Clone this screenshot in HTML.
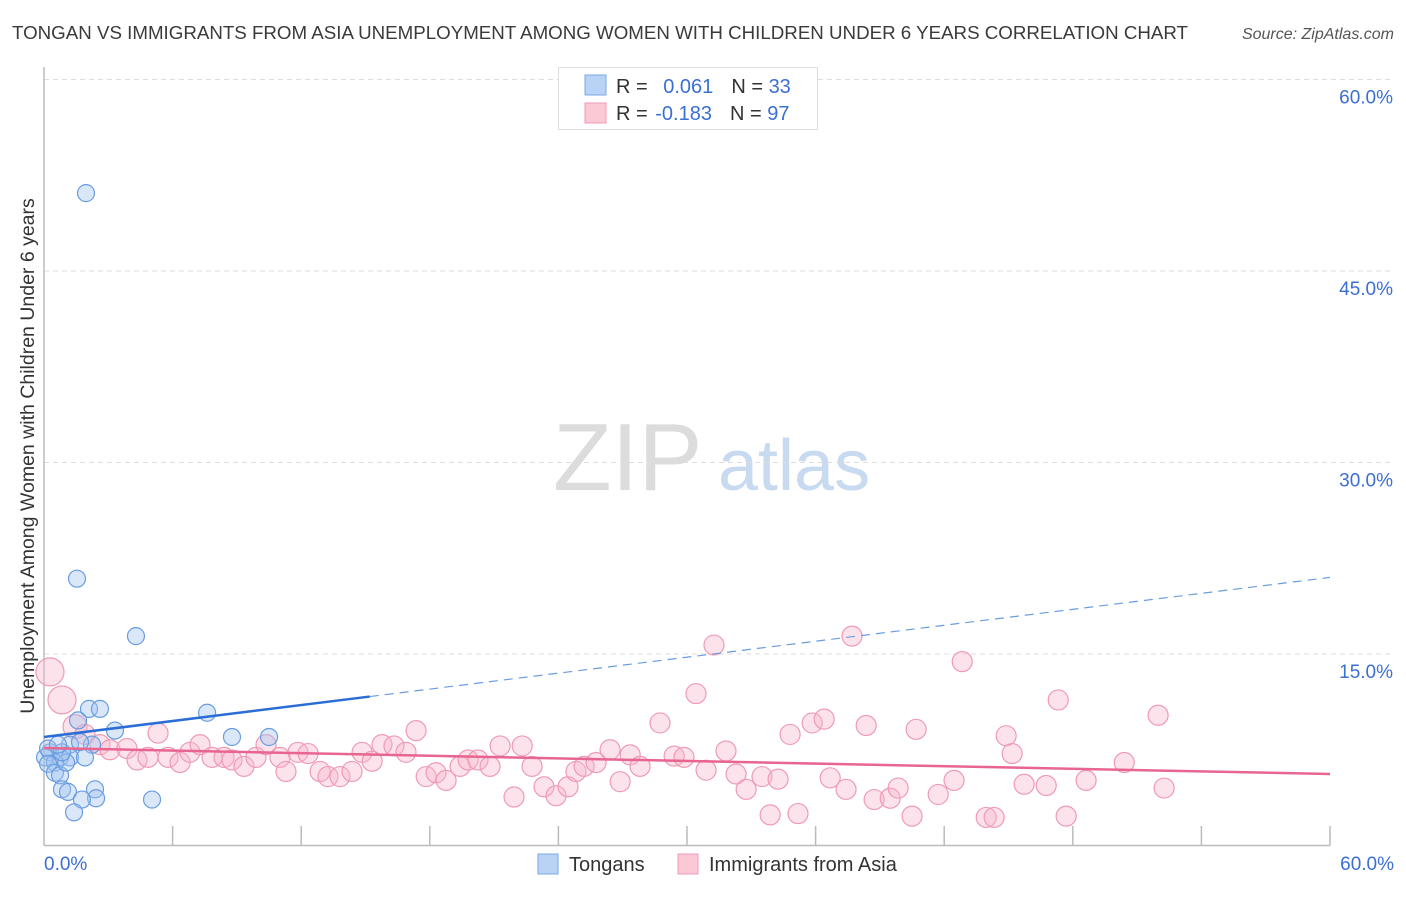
<!DOCTYPE html>
<html><head><meta charset="utf-8"><style>
body{margin:0;background:#fff;font-family:"Liberation Sans",sans-serif;}
svg text{font-family:"Liberation Sans",sans-serif;}
</style></head><body>
<svg id="chart" width="1406" height="892">
<text x="12" y="39" font-size="18.5" fill="#3a3a3a" textLength="1176" lengthAdjust="spacingAndGlyphs">TONGAN VS IMMIGRANTS FROM ASIA UNEMPLOYMENT AMONG WOMEN WITH CHILDREN UNDER 6 YEARS CORRELATION CHART</text>
<text x="1394" y="39" font-size="16" fill="#555" font-style="italic" text-anchor="end">Source: ZipAtlas.com</text>
<g>
<text x="553" y="490" font-size="96" fill="#dcdcdc" font-family="Liberation Serif">ZIP</text>
<text x="718" y="490" font-size="72" fill="#c8daf0">atlas</text>
</g>
<g id="grid"></g>
<g id="axes"></g>
<g id="marks"></g>
<g>
<rect x="558.5" y="67.5" width="259" height="62" fill="#fff" stroke="#ddd"/>
<rect x="585" y="75" width="21" height="20" fill="#b8d3f5" stroke="#7aa8e6"/>
<rect x="585" y="103" width="21" height="20" fill="#fbc8d6" stroke="#f09ab3"/>
<text x="616" y="93" font-size="20" fill="#333">R = <tspan fill="#3b6fd4" dx="10">0.061</tspan><tspan dx="18" fill="#333">N = </tspan><tspan fill="#3b6fd4">33</tspan></text>
<text x="616" y="120" font-size="20" fill="#333">R = <tspan fill="#3b6fd4" dx="2">-0.183</tspan><tspan dx="18" fill="#333">N = </tspan><tspan fill="#3b6fd4">97</tspan></text>
</g>
<g>
<rect x="538" y="854" width="20" height="20" fill="#b8d3f5" stroke="#7aa8e6"/>
<text x="569" y="871" font-size="20" fill="#333">Tongans</text>
<rect x="678" y="854" width="20" height="20" fill="#fbc8d6" stroke="#f09ab3"/>
<text x="709" y="871" font-size="20" fill="#333">Immigrants from Asia</text>
</g>
<text transform="translate(34,456) rotate(-90)" font-size="19.5" fill="#333" text-anchor="middle">Unemployment Among Women with Children Under 6 years</text>
</svg>
<script>
const yTicks=[15,30,45,60];
const xTickLabels=["0.0%","60.0%"];
const blueX=[1.96,1.54,4.29,7.61,8.77,10.50,2.10,2.61,3.31,1.59,1.21,2.24,1.68,0.28,0.75,1.21,1.91,0.05,0.51,0.19,0.19,0.51,0.75,0.84,1.12,2.38,2.43,1.77,1.40,5.04,1.03,0.84,0.65];
const blueY=[51.1,20.9,16.4,10.4,8.5,8.5,10.7,10.7,9.0,9.8,7.9,7.9,8.1,7.3,6.9,6.9,6.9,6.9,6.5,7.6,6.4,5.7,5.5,4.4,4.2,4.4,3.7,3.6,2.6,3.6,6.5,7.3,7.9];
const pinkX=[0.28,0.84,1.45,1.91,2.61,3.08,3.87,4.34,4.85,5.32,5.79,6.35,6.81,7.28,7.84,8.40,8.77,9.33,9.89,10.36,11.01,11.29,11.85,12.32,12.88,13.25,13.81,14.37,14.84,15.31,15.77,16.33,16.89,17.36,17.83,18.29,18.76,19.41,19.79,20.25,20.81,21.28,21.93,22.31,22.77,23.33,23.89,24.45,24.82,25.20,25.76,26.41,26.88,27.35,27.81,28.74,29.40,29.86,30.42,30.89,31.26,31.82,32.29,32.76,33.50,33.88,34.25,34.81,35.18,35.84,36.40,36.68,37.42,37.70,38.36,38.73,39.48,39.85,40.50,40.69,41.72,42.46,42.84,43.96,44.33,44.89,45.17,45.73,46.76,47.32,47.69,48.62,50.40,51.98,52.26];
const pinkY=[13.6,11.4,9.3,8.7,7.9,7.5,7.6,6.7,6.9,8.8,6.9,6.5,7.3,7.9,6.9,6.9,6.7,6.2,6.9,7.9,6.9,5.8,7.3,7.2,5.8,5.4,5.4,5.8,7.3,6.6,7.9,7.8,7.3,9.0,5.4,5.7,5.1,6.2,6.7,6.7,6.2,7.8,3.8,7.8,6.2,4.6,3.9,4.6,5.8,6.2,6.5,7.5,5.0,7.1,6.2,9.6,7.0,6.9,11.9,5.9,15.7,7.4,5.6,4.4,5.4,2.4,5.2,8.7,2.5,9.6,9.9,5.3,4.4,16.4,9.4,3.6,3.7,4.5,2.3,9.1,4.0,5.1,14.4,2.2,2.2,8.6,7.2,4.8,4.7,11.4,2.3,5.1,6.5,10.2,4.5];
const blueTrend=[8.5,21.0]; const blueSolidEnd=15.2;
const pinkTrend=[7.64,5.6];

const NS="http://www.w3.org/2000/svg";
const X0=44,X1=1330,Y0=845.5,Y1=79.5;
const sx=v=>X0+v/60*(X1-X0);
const sy=v=>Y0-v/60*(Y0-Y1);
function mk(tag,attrs,parent){const e=document.createElementNS(NS,tag);for(const k in attrs)e.setAttribute(k,attrs[k]);parent.appendChild(e);return e;}
const grid=document.getElementById('grid'),axes=document.getElementById('axes'),marks=document.getElementById('marks');
yTicks.forEach(t=>{
  const l=mk('line',{x1:X0,x2:1393,y1:sy(t),y2:sy(t),stroke:'#ddd','stroke-dasharray':'5,4'},grid);
  
  
  const tx=mk('text',{x:1393,y:sy(t)+24,'font-size':19,fill:'#3b6fd4','text-anchor':'end'},grid);
  tx.textContent=t.toFixed(1)+'%';
  
  
});
let a=mk('line',{x1:X0,x2:X0,y1:67,y2:Y0,stroke:'#bbb','stroke-width':1.5},axes);


a=mk('line',{x1:X0,x2:X1,y1:Y0,y2:Y0,stroke:'#bbb','stroke-width':1.5},axes);


for(let i=1;i<=10;i++){
  const t=mk('line',{x1:sx(i*6),x2:sx(i*6),y1:826,y2:Y0,stroke:'#bbb','stroke-width':1.5},axes);
  
  
}
let xl=mk('text',{x:44,y:870,'font-size':19,fill:'#3b6fd4'},axes);xl.textContent=xTickLabels[0];


xl=mk('text',{x:1394,y:870,'font-size':19,fill:'#3b6fd4','text-anchor':'end'},axes);xl.textContent=xTickLabels[1];



pinkX.forEach((v,i)=>{
  const r=i<2?14:(i==2?12:10);
  const c=mk('circle',{cx:sx(v),cy:sy(pinkY[i]),r:r,fill:'rgba(248,182,202,0.38)',stroke:'#ef9ab4','stroke-width':1.2},marks);
  
  
});
blueX.forEach((v,i)=>{
  const c=mk('circle',{cx:sx(v),cy:sy(blueY[i]),r:8.5,fill:'rgba(160,196,240,0.4)',stroke:'#6a9de0','stroke-width':1.2},marks);
  
  
});
const byAt=x=>blueTrend[0]+(blueTrend[1]-blueTrend[0])*x/60;
let tl=mk('line',{x1:sx(0),y1:sy(blueTrend[0]),x2:sx(blueSolidEnd),y2:sy(byAt(blueSolidEnd)),stroke:'#2a6dd6','stroke-width':2.5},marks);


tl=mk('line',{x1:sx(blueSolidEnd),y1:sy(byAt(blueSolidEnd)),x2:sx(60),y2:sy(blueTrend[1]),stroke:'#6a9de0','stroke-width':1.2,'stroke-dasharray':'9,6'},marks);


tl=mk('line',{x1:sx(0),y1:sy(pinkTrend[0]),x2:sx(60),y2:sy(pinkTrend[1]),stroke:'#e8658f','stroke-width':2.5},marks);


</script>
</body></html>
